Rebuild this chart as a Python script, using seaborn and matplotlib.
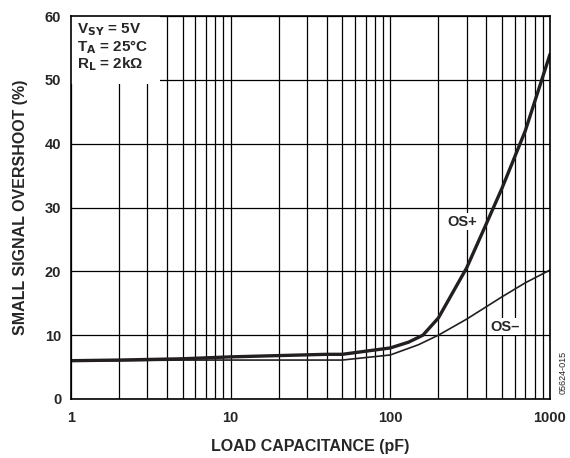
import matplotlib
matplotlib.use("Agg")
import matplotlib.pyplot as plt
import seaborn as sns
import pandas as pd
from matplotlib.ticker import FixedLocator, NullFormatter
from matplotlib.patches import Rectangle

cap_pos = [1, 2, 5, 10, 20, 40, 50, 100, 130, 160, 200, 300, 400, 500, 700, 1000]
os_pos = [6.0, 6.1, 6.3, 6.6, 6.8, 7.0, 7.0, 8.0, 8.9, 10.0, 12.7, 20.5, 27.5, 33.0, 42.0, 54.0]
cap_neg = [1, 2, 5, 10, 20, 50, 100, 150, 200, 300, 500, 700, 1000]
os_neg = [6.0, 6.0, 6.1, 6.1, 6.1, 6.1, 6.9, 8.5, 10.0, 12.5, 16.0, 18.2, 20.2]

x_ticks = [1, 10, 100, 1000]
y_ticks = [0, 10, 20, 30, 40, 50, 60]

sns.set_style("white")
plt.rcParams['font.family'] = ['Liberation Sans', 'DejaVu Sans']

fig = plt.figure(figsize=(5.7, 4.58), dpi=100)
ax = fig.add_axes([71/570, 1-399/458, 479/570, 383/458])

df_pos = pd.DataFrame({"c": cap_pos, "v": os_pos})
df_neg = pd.DataFrame({"c": cap_neg, "v": os_neg})

ax.set_xscale("log")
ax.set_xlim(1, 1000)
ax.set_ylim(0, 60)

minor = [m * d for d in [1, 10, 100] for m in range(2, 10)]
ax.xaxis.set_major_locator(FixedLocator(x_ticks))
ax.xaxis.set_minor_locator(FixedLocator(minor))
ax.xaxis.set_minor_formatter(NullFormatter())
ax.set_yticks(y_ticks)
ax.grid(True, which="both", axis="x", color="black", linewidth=0.9)
ax.grid(True, which="major", axis="y", color="black", linewidth=0.9)
ax.set_axisbelow(True)

sns.lineplot(data=df_neg, x="c", y="v", ax=ax, color="#231f20", linewidth=1.2, zorder=3)
sns.lineplot(data=df_pos, x="c", y="v", ax=ax, color="#231f20", linewidth=2.4, zorder=4)

ax.set_xticklabels([str(t) for t in x_ticks])
ax.tick_params(axis="x", which="both", length=0, labelsize=10.5, pad=9)
ax.tick_params(axis="y", which="both", length=0, labelsize=10.5, pad=7)
for lab in ax.get_xticklabels() + ax.get_yticklabels():
    lab.set_fontweight("bold")

for s in ax.spines.values():
    s.set_color("black")
    s.set_linewidth(1.2)
    s.set_zorder(6)

ax.set_xlabel("LOAD CAPACITANCE (pF)", fontsize=11.5, fontweight="bold", labelpad=10)
ax.set_ylabel("SMALL SIGNAL OVERSHOOT (%)", fontsize=11.5, fontweight="bold", labelpad=12)

ax.text(281, 27.8, "OS+", fontsize=10.5, fontweight="bold", ha="center", va="center",
        bbox=dict(facecolor="white", edgecolor="none", pad=1.0), zorder=5)
ax.text(520, 11.3, "OS–", fontsize=10.5, fontweight="bold", ha="center", va="center",
        bbox=dict(facecolor="white", edgecolor="none", pad=1.0), zorder=5)

ax.add_patch(Rectangle((1, 49.4), 2.62, 10.6, facecolor="white", edgecolor="none", zorder=4.5))
ax.text(1.09, 59.1,
        "V$_{\\mathbf{SY}}$ = 5V\nT$_{\\mathbf{A}}$ = 25°C\nR$_{\\mathbf{L}}$ = 2kΩ",
        fontsize=11, fontweight="bold", ha="left", va="top",
        linespacing=0.98, zorder=5)

fig.text(563/570, 1-372/458, "05624-015", rotation=90, fontsize=6.5, ha="center", va="center")

fig.savefig("out.png", dpi=100)
